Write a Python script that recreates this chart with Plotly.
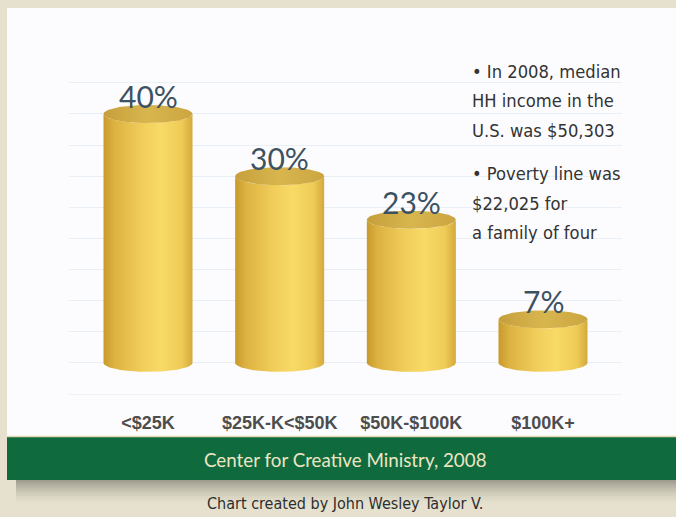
import numpy as np
import plotly.graph_objects as go

# Household income distribution, 2008
categories = ["<$25K", "$25K-K<$50K", "$50K-$100K", "$100K+"]
shares = [40, 30, 23, 7]

notes = [
    "• In 2008, median",
    "HH income in the",
    "U.S. was $50,303",
    "• Poverty line was",
    "$22,025 for",
    "a family of four",
]
source = "Center for Creative Ministry, 2008"
credit = "Chart created by John Wesley Taylor V."

W, H = 676, 517
BEIGE = "#e5e1ce"
GREEN = "#0f6a3d"
NARROW = "DejaVu Sans Condensed, Liberation Sans Narrow, Roboto, sans-serif"

# cylinder geometry in axis units
half_w = 0.338
ell_h = 1.45

body_scale = [[0.0, "#c8992c"], [0.12, "#dcb241"], [0.45, "#f2cf5c"],
              [0.65, "#f8da66"], [0.88, "#eecb56"], [1.0, "#d4a93c"]]
top_scale = [[0.0, "#c69f3c"], [0.5, "#d8b64e"], [1.0, "#cba541"]]


def px_x(p):
    return p / W


def px_y(p):
    return 1 - p / H


fig = go.Figure()

t = np.linspace(0, np.pi, 60)
for i, v in enumerate(shares):
    # side of the cylinder: left edge up, front rim of the top, right edge down, front rim of the base
    xs = np.concatenate([[i - half_w, i - half_w],
                         i - half_w * np.cos(t),
                         [i + half_w, i + half_w],
                         i + half_w * np.cos(t)])
    ys = np.concatenate([[0, v],
                         v - ell_h * np.sin(t),
                         [v, 0],
                         0 - ell_h * np.sin(t)])
    fig.add_trace(go.Scatter(
        x=xs, y=ys, mode="lines", fill="toself",
        line=dict(width=0, color="rgba(0,0,0,0)"),
        fillgradient=dict(type="horizontal", colorscale=body_scale),
        hoverinfo="skip", showlegend=False,
    ))
    # top face
    tt = np.linspace(0, 2 * np.pi, 120)
    fig.add_trace(go.Scatter(
        x=i + half_w * np.cos(tt), y=v + ell_h * np.sin(tt),
        mode="lines", fill="toself",
        line=dict(width=0, color="rgba(0,0,0,0)"),
        fillgradient=dict(type="horizontal", colorscale=top_scale),
        hoverinfo="skip", showlegend=False,
    ))

# value labels over each cylinder
for i, v in enumerate(shares):
    fig.add_annotation(
        x=i, y=v, xref="x", yref="y", text=f"{v}%", showarrow=False,
        yshift=18, font=dict(family="Lato, Open Sans, sans-serif", size=30, color="#3c5262"),
    )

# notes on the right
note_y = [71, 100, 130, 174, 203, 232]
for line, yy in zip(notes, note_y):
    fig.add_annotation(
        x=px_x(470), y=px_y(yy), xref="paper", yref="paper", text=line,
        showarrow=False, xanchor="left", yanchor="middle",
        font=dict(family=NARROW, size=18.2, color="#333333"),
    )

shapes = []
# white chart panel
shapes.append(dict(type="rect", xref="paper", yref="paper", x0=px_x(7), x1=1.0,
                   y0=px_y(436), y1=px_y(8), fillcolor="#fcfcfe", line=dict(width=0), layer="below"))
# drop shadow beneath the green band
for k in range(12):
    shapes.append(dict(type="rect", xref="paper", yref="paper", x0=px_x(16), x1=1.0,
                       y0=px_y(480 + 2 * (k + 1)), y1=px_y(480 + 2 * k),
                       fillcolor="black", opacity=0.30 * (1 - k / 12) ** 1.6,
                       line=dict(width=0), layer="below"))
# green source band with a light rule on top
shapes.append(dict(type="rect", xref="paper", yref="paper", x0=px_x(7), x1=1.0,
                   y0=px_y(480), y1=px_y(436), fillcolor=GREEN, line=dict(width=0), layer="below"))
shapes.append(dict(type="line", xref="paper", yref="paper", x0=px_x(7), x1=1.0,
                   y0=px_y(436.5), y1=px_y(436.5), line=dict(color="#e3d9ae", width=1.5), layer="below"))

fig.add_annotation(x=px_x(346), y=px_y(459), xref="paper", yref="paper", text=source,
                   showarrow=False, xanchor="center", yanchor="middle",
                   font=dict(family="Lato, Open Sans, sans-serif", size=18.8, color="#ebe5c3"))
fig.add_annotation(x=px_x(345), y=px_y(503), xref="paper", yref="paper", text=credit,
                   showarrow=False, xanchor="center", yanchor="middle",
                   font=dict(family=NARROW, size=16, color="#2e2e2e"))

x_lo, x_hi = -0.6, 3.6
y_lo, y_hi = -5, 46
fig.update_layout(
    width=W, height=H,
    margin=dict(l=0, r=0, t=0, b=0, pad=0),
    paper_bgcolor=BEIGE,
    plot_bgcolor="rgba(0,0,0,0)",
    shapes=shapes,
    xaxis=dict(
        domain=[px_x(69), px_x(622)], range=[x_lo, x_hi],
        tickmode="array", tickvals=list(range(len(categories))), ticktext=categories,
        showgrid=False, zeroline=False, showline=True, linecolor="#eef2f7", linewidth=1,
        ticks="", ticklabelstandoff=12,
        tickfont=dict(family="Liberation Sans, Arial, sans-serif", size=18, color="#4d4d4d", weight="bold"),
    ),
    yaxis=dict(
        domain=[px_y(394), px_y(363 - 46 * 6.225)], range=[y_lo, y_hi],
        tick0=0, dtick=5, showgrid=True, gridcolor="#e9eff6", gridwidth=1,
        showticklabels=False, zeroline=False, showline=False, ticks="",
    ),
)

fig.write_html("out.html")
